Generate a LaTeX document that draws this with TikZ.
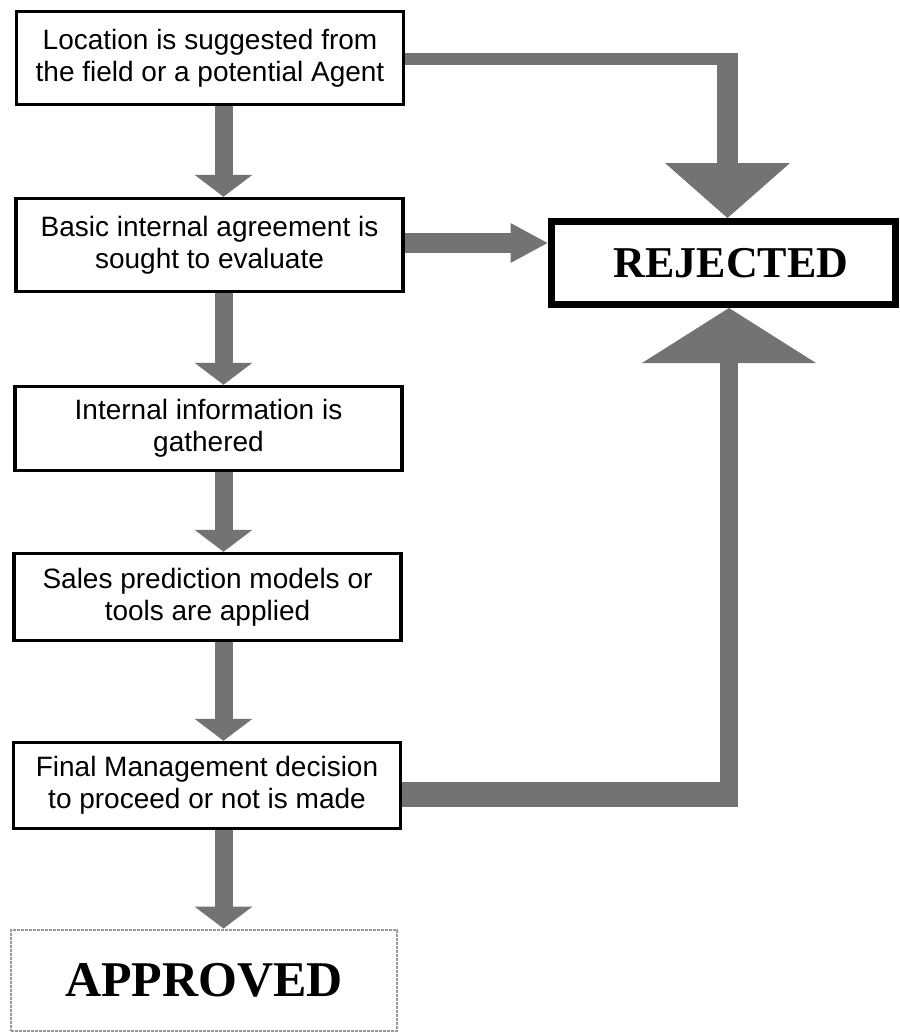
\documentclass[tikz,border=0pt]{standalone}
\usepackage{fontspec}
\setmainfont{Liberation Sans}
\newfontfamily\timesfont{Liberation Serif}
\usetikzlibrary{arrows.meta,calc}
\begin{document}
\begin{tikzpicture}[x=1pt,y=-1pt,
  stepbox/.style={draw=black, line width=3.5pt, fill=white, inner sep=0pt,
    align=center, minimum width=387pt, font=\fontsize{28}{32}\selectfont},
  rejbox/.style={draw=black, line width=7pt, fill=white, inner sep=0pt,
    minimum width=344pt, minimum height=83pt,
    font=\timesfont\bfseries\fontsize{44}{50}\selectfont},
  appbox/.style={draw=black!40, line width=2pt, dash pattern=on 3pt off 1pt,
    fill=white, inner sep=0pt, minimum width=386pt, minimum height=101pt,
    font=\timesfont\bfseries\fontsize{50}{56}\selectfont},
  shaft/.style={draw=black!55},
  vflow/.style={shaft, line width=18pt,
    -{Triangle[width=58pt,length=22pt,line width=0pt]}},
]
\useasboundingbox (0,0) rectangle (900,1034);

\node[stepbox, minimum height=93pt] (b1) at (210,58)
  {Location is suggested from\\the field or a potential Agent};
\node[stepbox, minimum height=93pt] (b2) at (209.5,245)
  {Basic internal agreement is\\sought to evaluate};
\node[stepbox, minimum height=84pt] (b3) at (208.5,428.5)
  {Internal information is\\gathered};
\node[stepbox, minimum height=87pt] (b4) at (207.5,597)
  {Sales prediction models or\\tools are applied};
\node[stepbox, minimum height=86pt] (b5) at (207,785.5)
  {Final Management decision\\to proceed or not is made};
\node[appbox] (app) at (204,980) {\raisebox{-3pt}{APPROVED}};
\node[rejbox] (rej) at (723,263) {\hspace*{16pt}\raisebox{-3pt}{REJECTED}};

\coordinate (ax) at (223.5,0);
\draw[vflow] (b1.south -| ax) -- (b2.north -| ax);
\draw[vflow] (b2.south -| ax) -- (b3.north -| ax);
\draw[vflow] (b3.south -| ax) -- (b4.north -| ax);
\draw[vflow] (b4.south -| ax) -- (b5.north -| ax);
\draw[vflow] (b5.south -| ax) -- (app.north -| ax);

% top L connector
\coordinate (k1) at (727.5,59);
\draw[shaft, line width=12pt] (b1.east |- k1) -- ($(k1)+(10.5,0)$);
\draw[shaft, line width=21pt,
  -{Triangle[width=125pt,length=55pt,line width=0pt]}]
  ($(k1)+(0,-6)$) -- (k1 |- rej.north);

% middle connector
\coordinate (k2) at (0,243);
\draw[shaft, line width=20pt,
  -{Triangle[width=40pt,length=37pt,line width=0pt]}]
  (b2.east |- k2) -- (rej.west |- k2);

% bottom L connector
\coordinate (k3) at (729,794.5);
\draw[shaft, line width=25pt] (b5.east |- k3) -- ($(k3)+(9,0)$);
\draw[shaft, line width=18pt,
  -{Triangle[width=174pt,length=55pt,line width=0pt]}]
  ($(k3)+(0,12.5)$) -- (k3 |- rej.south);
\end{tikzpicture}
\end{document}
